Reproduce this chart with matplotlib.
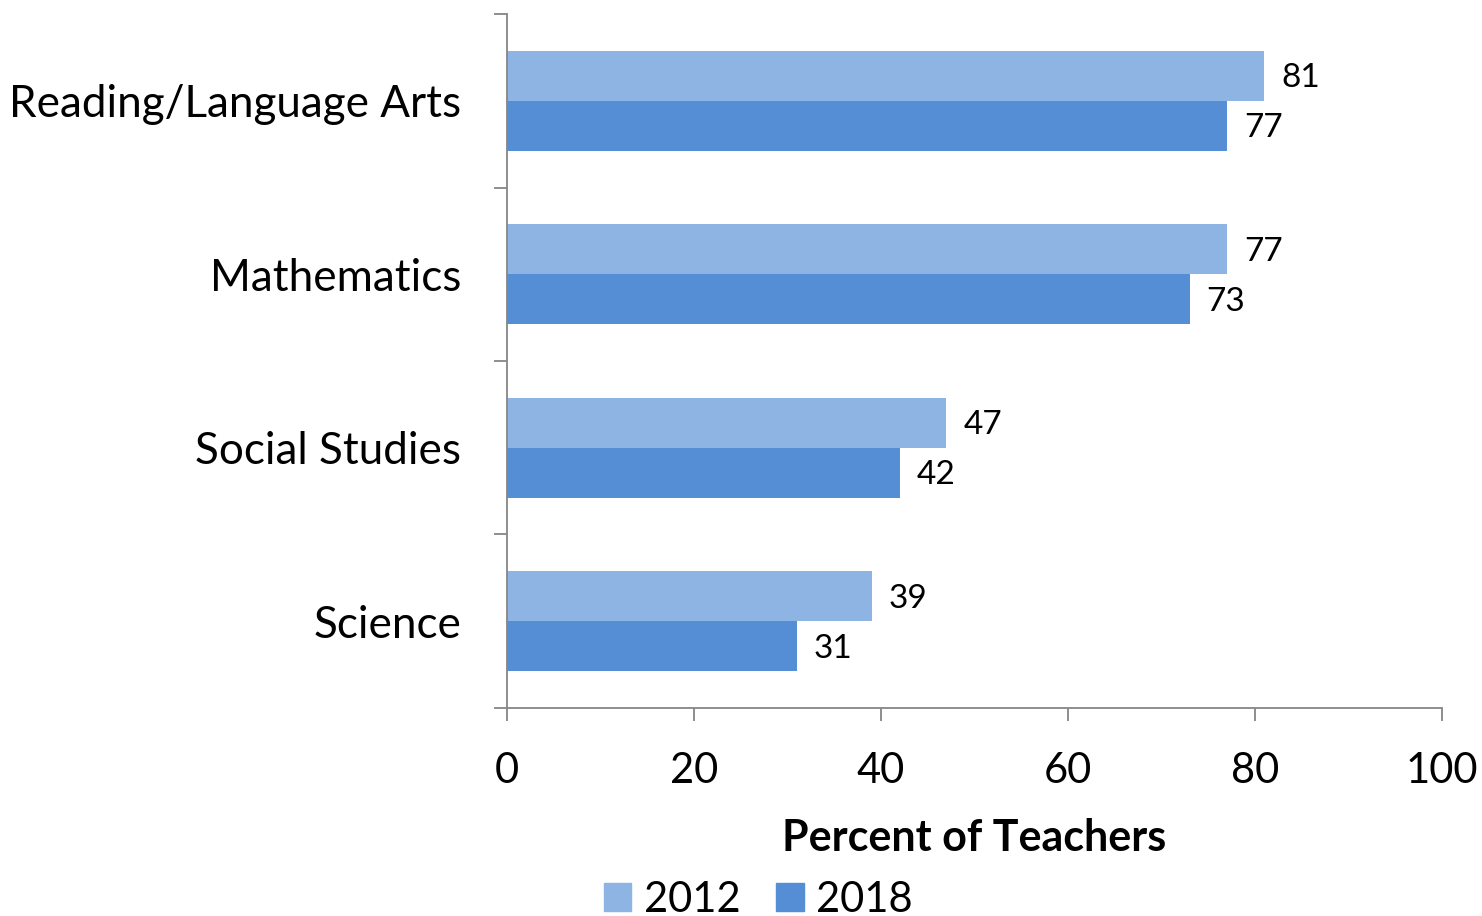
import matplotlib.pyplot as plt
from matplotlib.patches import Patch

plt.rcParams['font.family'] = ['Lato', 'DejaVu Sans']

subjects = ['Reading/Language Arts', 'Mathematics', 'Social Studies', 'Science']
vals_2012 = [81, 77, 47, 39]
vals_2018 = [77, 73, 42, 31]

c2012 = '#8EB4E3'
c2018 = '#558ED5'
grey = '#868686'

fig = plt.figure(figsize=(14.82, 9.16), dpi=100)
ax = fig.add_axes([0.3421, 0.2271, 0.6309, 0.7576])

h = 0.288
pos = list(range(len(subjects)))
ax.barh([p - h / 2 for p in pos], vals_2012, height=h, color=c2012)
ax.barh([p + h / 2 for p in pos], vals_2018, height=h, color=c2018)

# подписи значений справа от столбцов
for p, v in zip(pos, vals_2012):
    ax.text(v + 1.8, p - h / 2 + 0.015, str(v), va='center', ha='left', fontsize=24)
for p, v in zip(pos, vals_2018):
    ax.text(v + 1.8, p + h / 2 + 0.015, str(v), va='center', ha='left', fontsize=24)

ax.set_xlim(0, 100)
ax.set_ylim(3.5, -0.5)
ax.set_xticks(range(0, 101, 20))
ax.set_yticks([-0.5, 0.5, 1.5, 2.5, 3.5])
ax.set_yticklabels([])
ax.set_yticks(pos, minor=True)
ax.set_yticklabels(subjects, minor=True, fontsize=31.7)
ax.tick_params(axis='y', which='minor', length=0, pad=33)
ax.tick_params(axis='y', which='major', length=9.5, color=grey, width=1.3)
ax.tick_params(axis='x', length=9, color=grey, width=1.3, labelsize=30, pad=23)

for s in ['top', 'right']:
    ax.spines[s].set_visible(False)
for s in ['left', 'bottom']:
    ax.spines[s].set_color(grey)
    ax.spines[s].set_linewidth(1.3)

ax.set_xlabel('Percent of Teachers', fontsize=31, fontweight='bold', labelpad=20)

handles = [Patch(color=c2012, label='2012'), Patch(color=c2018, label='2018')]
fig.legend(handles=handles, loc='lower center', bbox_to_anchor=(0.5115, -0.044), ncol=2,
           frameon=False, fontsize=30, handlelength=0.67, handleheight=0.67,
           handletextpad=0.29, columnspacing=0.86)

fig.savefig('out.png', dpi=100)
